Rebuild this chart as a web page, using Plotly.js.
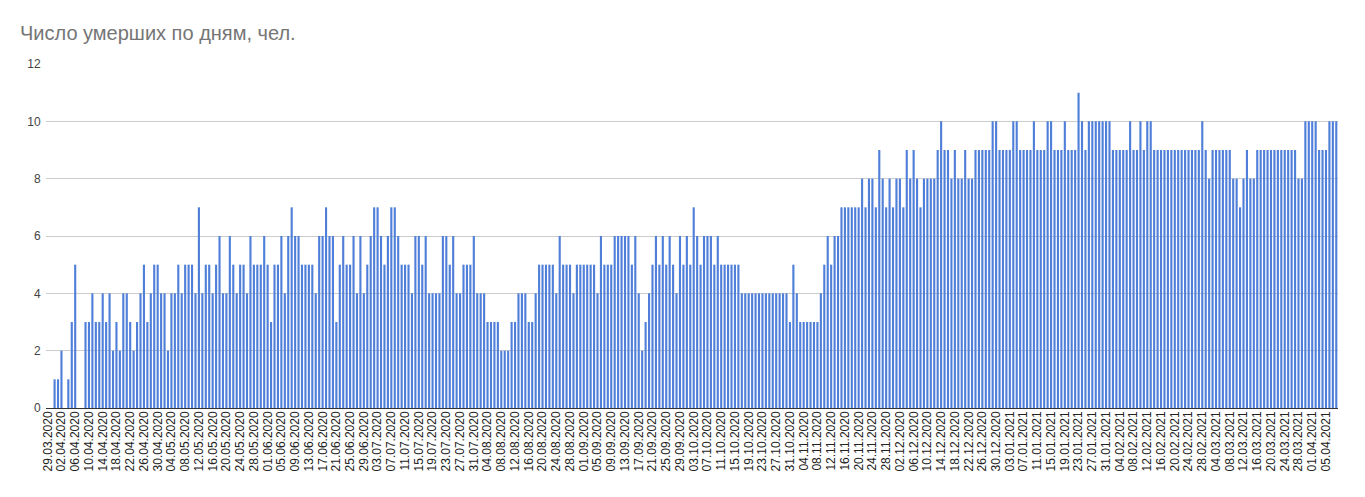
<!DOCTYPE html>
<html><head><meta charset="utf-8">
<script src="https://cdn.plot.ly/plotly-3.0.1.min.js"></script>
<style>html,body{margin:0;padding:0;background:#fff;overflow:hidden}</style>
</head><body>
<div id="chart" style="width:1365px;height:497px"></div>
<script>
// Daily deaths, starting 29.03.2020, one value per day
const firstDay = [2020, 3, 29];
const deaths_2020_03 = [0,0,1];
const deaths_2020_04 = [1,2,0,1,3,5,0,0,3,3, 4,3,3,4,3,4,2,3,2,4, 4,3,2,3,4,5,3,4,5,5];
const deaths_2020_05 = [4,4,2,4,4,5,4,5,5,5, 4,7,4,5,5,4,5,6,4,4, 6,5,4,5,5,4,6,5,5,5, 6];
const deaths_2020_06 = [5,3,5,5,6,4,6,7,6,6, 5,5,5,5,4,6,6,7,6,6, 3,5,6,5,5,6,4,6,4,5];
const deaths_2020_07 = [6,7,7,6,5,6,7,7,6,5, 5,5,4,6,6,5,6,4,4,4, 4,6,6,5,6,4,4,5,5,5, 6];
const deaths_2020_08 = [4,4,4,3,3,3,3,2,2,2, 3,3,4,4,4,3,3,4,5,5, 5,5,5,4,6,5,5,5,4,5, 5];
const deaths_2020_09 = [5,5,5,5,4,6,5,5,5,6, 6,6,6,6,5,6,4,2,3,4, 5,6,5,6,5,6,5,4,6,5];
const deaths_2020_10 = [6,5,7,6,5,6,6,6,5,6, 5,5,5,5,5,5,4,4,4,4, 4,4,4,4,4,4,4,4,4,4, 3];
const deaths_2020_11 = [5,4,3,3,3,3,3,3,4,5, 6,5,6,6,7,7,7,7,7,7, 8,7,8,8,7,9,8,7,8,7];
const deaths_2020_12 = [8,8,7,9,8,9,8,7,8,8, 8,8,9,10,9,9,8,9,8,8, 9,8,8,9,9,9,9,9,10,10, 9];
const deaths_2021_01 = [9,9,9,10,10,9,9,9,9,10, 9,9,9,10,10,9,9,9,10,9, 9,9,11,10,9,10,10,10,10,10, 10];
const deaths_2021_02 = [10,9,9,9,9,9,10,9,9,10, 9,10,10,9,9,9,9,9,9,9, 9,9,9,9,9,9,9,10];
const deaths_2021_03 = [9,8,9,9,9,9,9,9,8,8, 7,8,9,8,8,9,9,9,9,9, 9,9,9,9,9,9,9,8,8,10, 10];
const deaths_2021_04 = [10,10,9,9,9,10,10,10];

const values = [].concat(deaths_2020_03, deaths_2020_04, deaths_2020_05, deaths_2020_06,
  deaths_2020_07, deaths_2020_08, deaths_2020_09, deaths_2020_10, deaths_2020_11,
  deaths_2020_12, deaths_2021_01, deaths_2021_02, deaths_2021_03, deaths_2021_04);

// categories: consecutive calendar days, formatted dd.mm.yyyy
const categories = [];
const pad = n => (n < 10 ? '0' : '') + n;
for (let i = 0; i < values.length; i++) {
  const dt = new Date(Date.UTC(firstDay[0], firstDay[1] - 1, firstDay[2] + i));
  categories.push(pad(dt.getUTCDate()) + '.' + pad(dt.getUTCMonth() + 1) + '.' + dt.getUTCFullYear());
}
const tickLabels = categories.filter((_, i) => i % 4 === 0);

const trace = {
  type: 'bar',
  x: categories,
  y: values,
  marker: {color: '#4f7fd9'},
  hoverinfo: 'skip'
};

const layout = {
  width: 1365, height: 497,
  margin: {l: 46, r: 27, t: 64, b: 89},
  paper_bgcolor: '#ffffff', plot_bgcolor: '#ffffff',
  bargap: 0.38,
  showlegend: false,
  title: {
    text: 'Число умерших по дням, чел.',
    xref: 'container', yref: 'container',
    x: 20 / 1365, xanchor: 'left',
    y: 1 - 33 / 497, yanchor: 'middle',
    font: {family: 'Liberation Sans, Arial, sans-serif', size: 20, color: '#757575'}
  },
  xaxis: {
    type: 'category',
    range: [-0.5, values.length - 0.5],
    tickmode: 'array', tickvals: tickLabels, ticktext: tickLabels,
    tickangle: -90,
    tickfont: {family: 'Liberation Sans, Arial, sans-serif', size: 12, color: '#222'},
    showgrid: false, showline: false, ticks: '', zeroline: false,
    fixedrange: true
  },
  yaxis: {
    range: [0, 12], tick0: 0, dtick: 2,
    gridcolor: '#cccccc', gridwidth: 1,
    zeroline: true, zerolinecolor: '#333333', zerolinewidth: 1,
    showline: false,
    ticks: 'outside', ticklen: 2, tickcolor: 'rgba(0,0,0,0)',
    tickfont: {family: 'Liberation Sans, Arial, sans-serif', size: 12, color: '#444'},
    fixedrange: true
  }
};

Plotly.newPlot('chart', [trace], layout, {displayModeBar: false, staticPlot: true});
</script>
</body></html>
